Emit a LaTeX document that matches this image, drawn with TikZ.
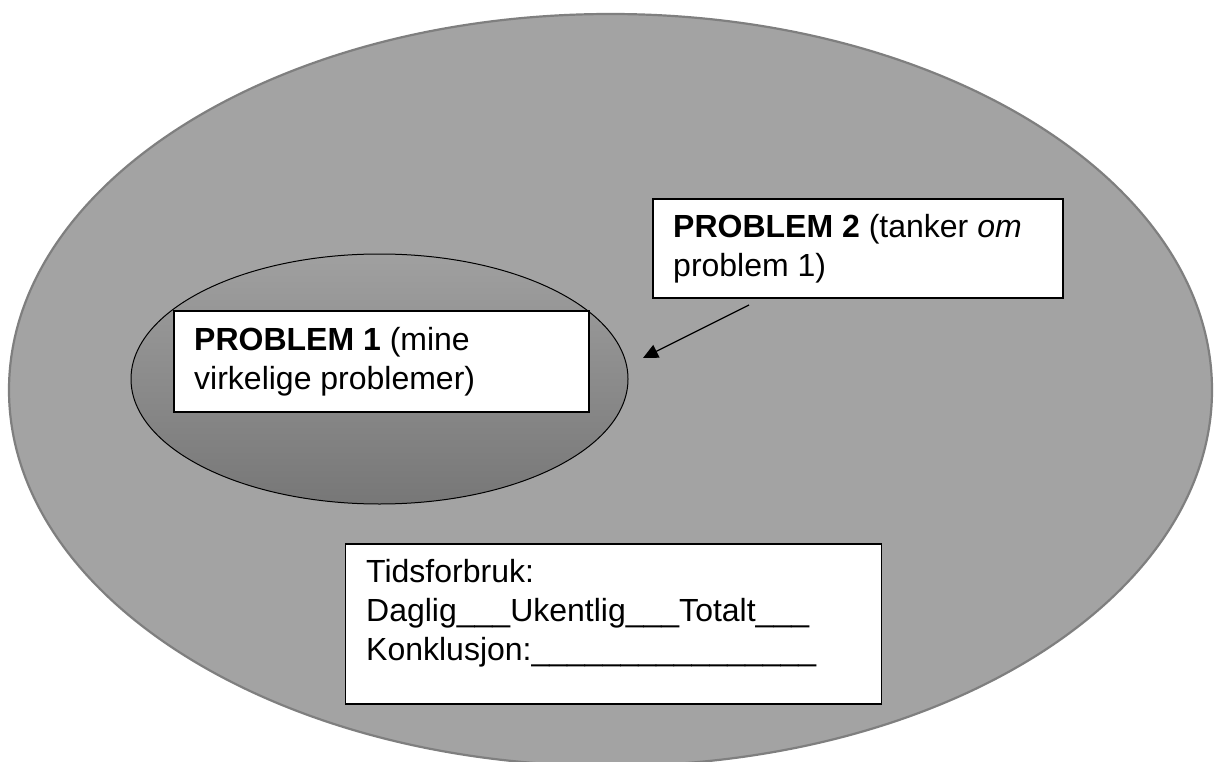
\documentclass[tikz,border=0pt]{standalone}
\usepackage{fontspec}
\setmainfont{Liberation Sans}
\usetikzlibrary{shapes.geometric,arrows.meta}
\definecolor{bigfill}{HTML}{A3A3A3}
\definecolor{bigline}{HTML}{7F7F7F}
\definecolor{smalltop}{HTML}{A0A0A0}
\definecolor{smallbot}{HTML}{777777}
\tikzset{
  textbox/.style={draw=black, line width=1.6pt, fill=white, rectangle, inner sep=0pt, anchor=north west},
  boxtext/.style={anchor=base west, inner sep=0pt, align=left, font=\fontsize{32}{39}\selectfont},
  pointer/.style={line width=1.2pt, -{Triangle[length=15pt,width=14pt]}}
}
\begin{document}
\begin{tikzpicture}[x=1pt,y=-1pt]
\useasboundingbox (0,0) rectangle (1215,762);
\clip (0,0) rectangle (1215,762);
\fill[white] (0,0) rectangle (1215,762);
% outer ellipse
\node[ellipse, draw=bigline, line width=2.2pt, fill=bigfill, inner sep=0pt,
      minimum width=1203pt, minimum height=752pt] (outer) at (610.5,390) {};
% inner ellipse
\node[ellipse, draw=black, line width=1pt, top color=smalltop, bottom color=smallbot, inner sep=0pt,
      minimum width=497pt, minimum height=250pt] (inner) at (379.5,379) {};
% box 1
\node[textbox, minimum width=415pt, minimum height=101pt] (box1) at (173,310) {};
\node[boxtext] (t1) at (194,389) {\textbf{PROBLEM 1} (mine\\virkelige problemer)};
% box 2
\node[textbox, minimum width=410pt, minimum height=99pt] (box2) at (652,198) {};
\node[boxtext] (t2) at (673,276) {\textbf{PROBLEM 2} (tanker \textit{om}\\problem 1)};
% box 3
\node[textbox, minimum width=536pt, minimum height=160pt] (box3) at (344.5,543) {};
\node[boxtext] (t3) at (366,660) {Tidsforbruk:\\Daglig\_\_\_Ukentlig\_\_\_Totalt\_\_\_\\Konklusjon:\_\_\_\_\_\_\_\_\_\_\_\_\_\_\_\_};
% arrow
\coordinate (arrowstart) at (749,305);
\coordinate (arrowend) at (643,358);
\draw[pointer] (arrowstart) -- (arrowend);
\end{tikzpicture}
\end{document}
